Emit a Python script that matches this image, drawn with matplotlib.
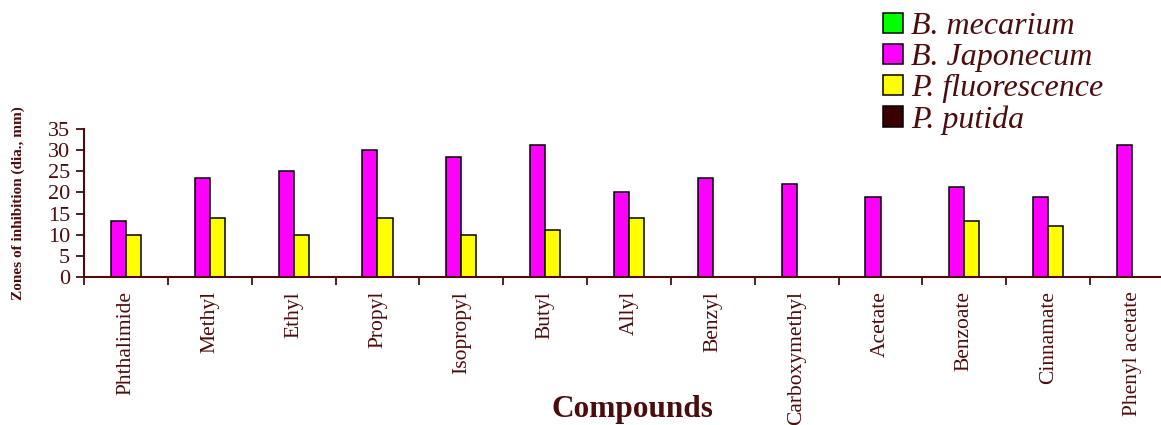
import matplotlib.pyplot as plt
from matplotlib.patches import Patch
import numpy as np

compounds = ['Phthalimide', 'Methyl', 'Ethyl', 'Propyl', 'Isopropyl', 'Butyl',
             'Allyl', 'Benzyl', 'Carboxymethyl', 'Acetate', 'Benzoate',
             'Cinnamate', 'Phenyl acetate']
b_mecarium = [0, 0, 0, 0, 0, 0, 0, 0, 0, 0, 0, 0, 0]
b_japonecum = [13.3, 23.3, 25, 30, 28.3, 31.3, 20, 23.3, 22, 19, 21.2, 19, 31.3]
p_fluorescence = [10, 14, 10, 14, 10, 11.2, 14, 0, 0, 0, 13.3, 12, 0]
p_putida = [0, 0, 0, 0, 0, 0, 0, 0, 0, 0, 0, 0, 0]

series_names = ['B. mecarium', 'B. Japonecum', 'P. fluorescence', 'P. putida']
colors = ['#00ff00', '#ff00ff', '#ffff00', '#3a0000']
brown = '#4a0c0c'

plt.rcParams['font.family'] = ['Liberation Serif', 'DejaVu Serif']

fig = plt.figure(figsize=(11.61, 4.25), dpi=100)
ax = fig.add_axes([84 / 1161, 1 - 277 / 425, 1090 / 1161, 148 / 425])

x = np.arange(len(compounds))
w = 0.18
data = [b_mecarium, b_japonecum, p_fluorescence, p_putida]
for i, (vals, c) in enumerate(zip(data, colors)):
    ax.bar(x + (i - 1.5) * w, vals, w, color=c, edgecolor='black', linewidth=1.1, zorder=3)

ax.set_xlim(-0.5, len(compounds) - 0.5)
ax.set_ylim(0, 35)
ax.set_yticks(range(0, 36, 5))
ax.set_xticks(x)
ax.set_xticklabels(compounds, rotation=90, fontsize=15.5, color=brown)
ax.set_xticks(np.arange(-0.5, len(compounds), 1), minor=True)
ax.tick_params(axis='x', which='major', length=0, pad=10)
ax.tick_params(axis='x', which='minor', length=6, width=1.3, color=brown, direction='out')
ax.tick_params(axis='y', length=6, width=1.3, color=brown, labelsize=16, labelcolor=brown, pad=4)

for s in ['top', 'right']:
    ax.spines[s].set_visible(False)
for s in ['left', 'bottom']:
    ax.spines[s].set_color(brown)
    ax.spines[s].set_linewidth(1.5)
    ax.spines[s].set_zorder(4)

fig.text(632 / 1161, 1 - 410 / 425, 'Compounds', ha='center', va='center',
         fontsize=22.5, fontweight='bold', color=brown)
fig.text(18 / 1161, 1 - 203 / 425, 'Zones of inhibition (dia., mm)', rotation=90,
         ha='center', va='center', fontsize=11, fontweight='bold', color=brown)

handles = [Patch(facecolor=c, edgecolor='black', linewidth=1.1) for c in colors]
leg = fig.legend(handles, series_names, loc='upper left',
                 bbox_to_anchor=(861 / 1161, 1 + 10 / 425), frameon=False,
                 prop={'family': 'Liberation Serif', 'style': 'italic', 'size': 23},
                 handlelength=0.62, handleheight=0.62, handletextpad=0.26,
                 labelspacing=0.06, borderpad=0.2)
for t in leg.get_texts():
    t.set_color(brown)

fig.savefig('out.png', dpi=100)
